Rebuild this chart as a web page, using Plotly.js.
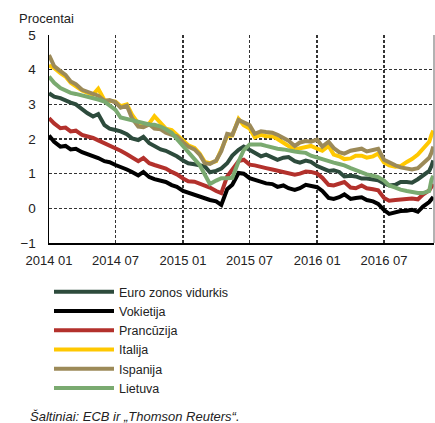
<!DOCTYPE html>
<html>
<head>
<meta charset="utf-8">
<script src="https://cdn.plot.ly/plotly-3.0.1.min.js"></script>
<style>
html,body{margin:0;padding:0;background:#fff;}
#chart{width:435px;height:423px;}
</style>
</head>
<body>
<div id="chart"></div>
<script>
// Semi-monthly sampling dates (1st and 15th), then the last days of the series
const dates = [];
for (let y = 2014; y <= 2016; y++) {
  for (let mo = 1; mo <= 12; mo++) {
    if (y === 2016 && mo > 10) break;
    const mm = (mo < 10 ? '0' : '') + mo;
    dates.push(y + '-' + mm + '-01');
    dates.push(y + '-' + mm + '-15');
  }
}
dates.push('2016-11-01', '2016-11-07', '2016-11-12');

const seriesNames = ['Euro zonos vidurkis', 'Vokietija', 'Prancūzija', 'Italija', 'Ispanija', 'Lietuva'];

const euroArea = [3.32,3.22,3.18,3.10,3.05,3.00,2.86,2.75,2.65,2.72,2.40,2.30,2.26,2.22,2.14,2.02,1.97,2.06,1.88,1.80,
  1.70,1.66,1.58,1.50,1.38,1.30,1.27,1.24,1.21,1.04,1.08,1.15,1.30,1.52,1.69,1.78,1.68,1.58,1.50,1.55,
  1.48,1.40,1.46,1.48,1.36,1.32,1.38,1.34,1.22,1.15,1.08,1.10,1.05,0.92,0.94,0.92,0.86,0.86,0.84,0.81,
  0.72,0.66,0.68,0.76,0.76,0.74,0.84,0.96,1.08,1.22,1.38];
const germany = [2.10,1.92,1.78,1.80,1.70,1.72,1.62,1.57,1.52,1.45,1.36,1.33,1.25,1.20,1.12,1.05,0.95,1.05,0.90,0.84,
  0.78,0.76,0.67,0.62,0.50,0.45,0.38,0.36,0.28,0.24,0.20,0.10,0.55,0.68,1.02,1.00,0.87,0.82,0.77,0.72,
  0.70,0.62,0.66,0.58,0.53,0.58,0.68,0.66,0.61,0.50,0.30,0.27,0.32,0.40,0.27,0.30,0.32,0.24,0.20,0.13,
  -0.05,-0.16,-0.12,-0.08,-0.07,-0.04,-0.10,0.05,0.18,0.26,0.33];
const france = [2.60,2.45,2.31,2.33,2.22,2.24,2.12,2.08,2.03,1.96,1.88,1.80,1.72,1.66,1.56,1.48,1.36,1.45,1.30,1.25,
  1.20,1.15,1.05,0.98,0.86,0.78,0.77,0.72,0.66,0.60,0.50,0.44,0.92,1.12,1.36,1.40,1.26,1.24,1.21,1.16,
  1.12,1.08,1.06,1.00,0.97,1.00,1.06,1.05,1.00,0.88,0.68,0.66,0.72,0.76,0.60,0.58,0.66,0.58,0.55,0.52,
  0.30,0.22,0.24,0.26,0.26,0.28,0.26,0.40,0.52,0.62,0.70];
const italy = [4.12,4.05,3.90,3.80,3.62,3.52,3.40,3.34,3.28,3.45,3.12,3.10,3.08,2.95,3.00,2.70,2.45,2.40,2.45,2.66,
  2.45,2.30,2.26,2.12,1.96,1.82,1.74,1.58,1.34,1.30,1.36,1.68,2.08,2.10,2.58,2.40,2.30,2.05,2.12,2.08,
  2.08,2.00,1.88,1.80,1.70,1.74,1.78,1.80,1.72,1.66,1.80,1.55,1.50,1.42,1.44,1.52,1.52,1.46,1.50,1.58,
  1.32,1.24,1.20,1.22,1.34,1.42,1.55,1.72,1.92,2.12,2.24];
const spain = [4.42,4.10,3.96,3.85,3.66,3.58,3.42,3.36,3.30,3.25,3.10,3.12,3.06,2.90,2.96,2.60,2.36,2.34,2.42,2.30,
  2.28,2.18,2.12,2.08,1.90,1.78,1.70,1.55,1.30,1.28,1.38,1.65,2.15,2.12,2.55,2.48,2.40,2.15,2.22,2.20,
  2.18,2.12,2.03,1.95,1.80,1.90,1.94,1.92,1.98,1.78,1.92,1.74,1.62,1.58,1.66,1.70,1.72,1.64,1.68,1.72,
  1.40,1.32,1.24,1.18,1.14,1.12,1.16,1.30,1.46,1.60,1.78];
const lithuania = [3.80,3.62,3.47,3.40,3.33,3.30,3.26,3.24,3.20,3.14,3.08,2.98,2.84,2.62,2.58,2.55,2.50,2.45,2.42,2.41,
  2.36,2.28,2.18,2.00,1.78,1.60,1.42,1.25,0.95,0.70,0.80,0.87,0.87,0.88,1.35,1.68,1.84,1.84,1.84,1.80,
  1.75,1.72,1.70,1.66,1.64,1.62,1.60,1.52,1.46,1.42,1.36,1.32,1.28,1.24,1.16,1.10,1.04,0.98,0.94,0.90,
  0.80,0.66,0.60,0.54,0.50,0.46,0.44,0.44,0.50,0.82,0.94];

const colors = ['#2d4b3c', '#000000', '#b3312c', '#ffc800', '#9c8a58', '#7aaa70'];
const values = [euroArea, germany, france, italy, spain, lithuania];

const tickVals = ['2014-01-01','2014-07-01','2015-01-01','2015-07-01','2016-01-01','2016-07-01'];
const tickText = ['2014 01','2014 07','2015 01','2015 07','2016 01','2016 07'];
const yTicks = [-1, 0, 1, 2, 3, 4, 5];

const FONT = '"Liberation Sans", Arial, sans-serif';
const FS = 13;

const traces = seriesNames.map((n, i) => ({
  type: 'scatter', mode: 'lines', name: n,
  x: dates, y: values[i],
  line: {color: colors[i], width: 4}
}));

const shapes = [{type: 'line', xref: 'paper', yref: 'paper', x0: 1, x1: 1, y0: 0, y1: 1,
  line: {color: '#999', width: 1.5}}];

const layout = {
  width: 435, height: 423,
  margin: {l: 49, r: 1, t: 35, b: 180},
  paper_bgcolor: '#fff', plot_bgcolor: '#fff',
  font: {family: FONT, size: FS, color: '#222'},
  title: {text: 'Procentai', xref: 'container', yref: 'container',
          x: 19/435, xanchor: 'left', y: 1 - 18/423, yanchor: 'middle',
          pad: {t: 0, b: 0, l: 0, r: 0},
          font: {family: FONT, size: FS, color: '#222'}},
  showlegend: true,
  legend: {
    x: 0.0, xanchor: 'left', y: -0.164, yanchor: 'top',
    orientation: 'v', itemwidth: 60, tracegroupgap: 0,
    font: {family: FONT, size: 12.5, color: '#222'},
    bgcolor: 'rgba(0,0,0,0)'
  },
  xaxis: {
    type: 'date', range: ['2014-01-01', '2016-11-14'],
    tickvals: tickVals, ticktext: tickText, ticks: '',
    showgrid: true, gridcolor: '#333', gridwidth: 1.5, griddash: '3px,2px',
    showline: true, linecolor: '#000', linewidth: 1.5,
    zeroline: false, ticklabelstandoff: 5,
    tickfont: {family: FONT, size: FS, color: '#222'}
  },
  yaxis: {
    range: [-1, 5], tickvals: yTicks, ticks: '',
    showgrid: true, gridcolor: '#333', gridwidth: 1.5, griddash: '3px,2px',
    showline: true, linecolor: '#000', linewidth: 1.5,
    zeroline: false, ticklabelstandoff: 9,
    tickfont: {family: FONT, size: 13.5, color: '#222'}
  },
  shapes: shapes,
  annotations: [
    {text: 'Šaltiniai: ECB ir „Thomson Reuters“.', xref: 'paper', yref: 'paper',
     x: -0.054, y: -0.835, xanchor: 'left', yanchor: 'middle', showarrow: false,
     font: {family: FONT, size: FS, color: '#222', style: 'italic'}}
  ]
};

Plotly.newPlot('chart', traces, layout, {staticPlot: true, displayModeBar: false});
</script>
</body>
</html>
